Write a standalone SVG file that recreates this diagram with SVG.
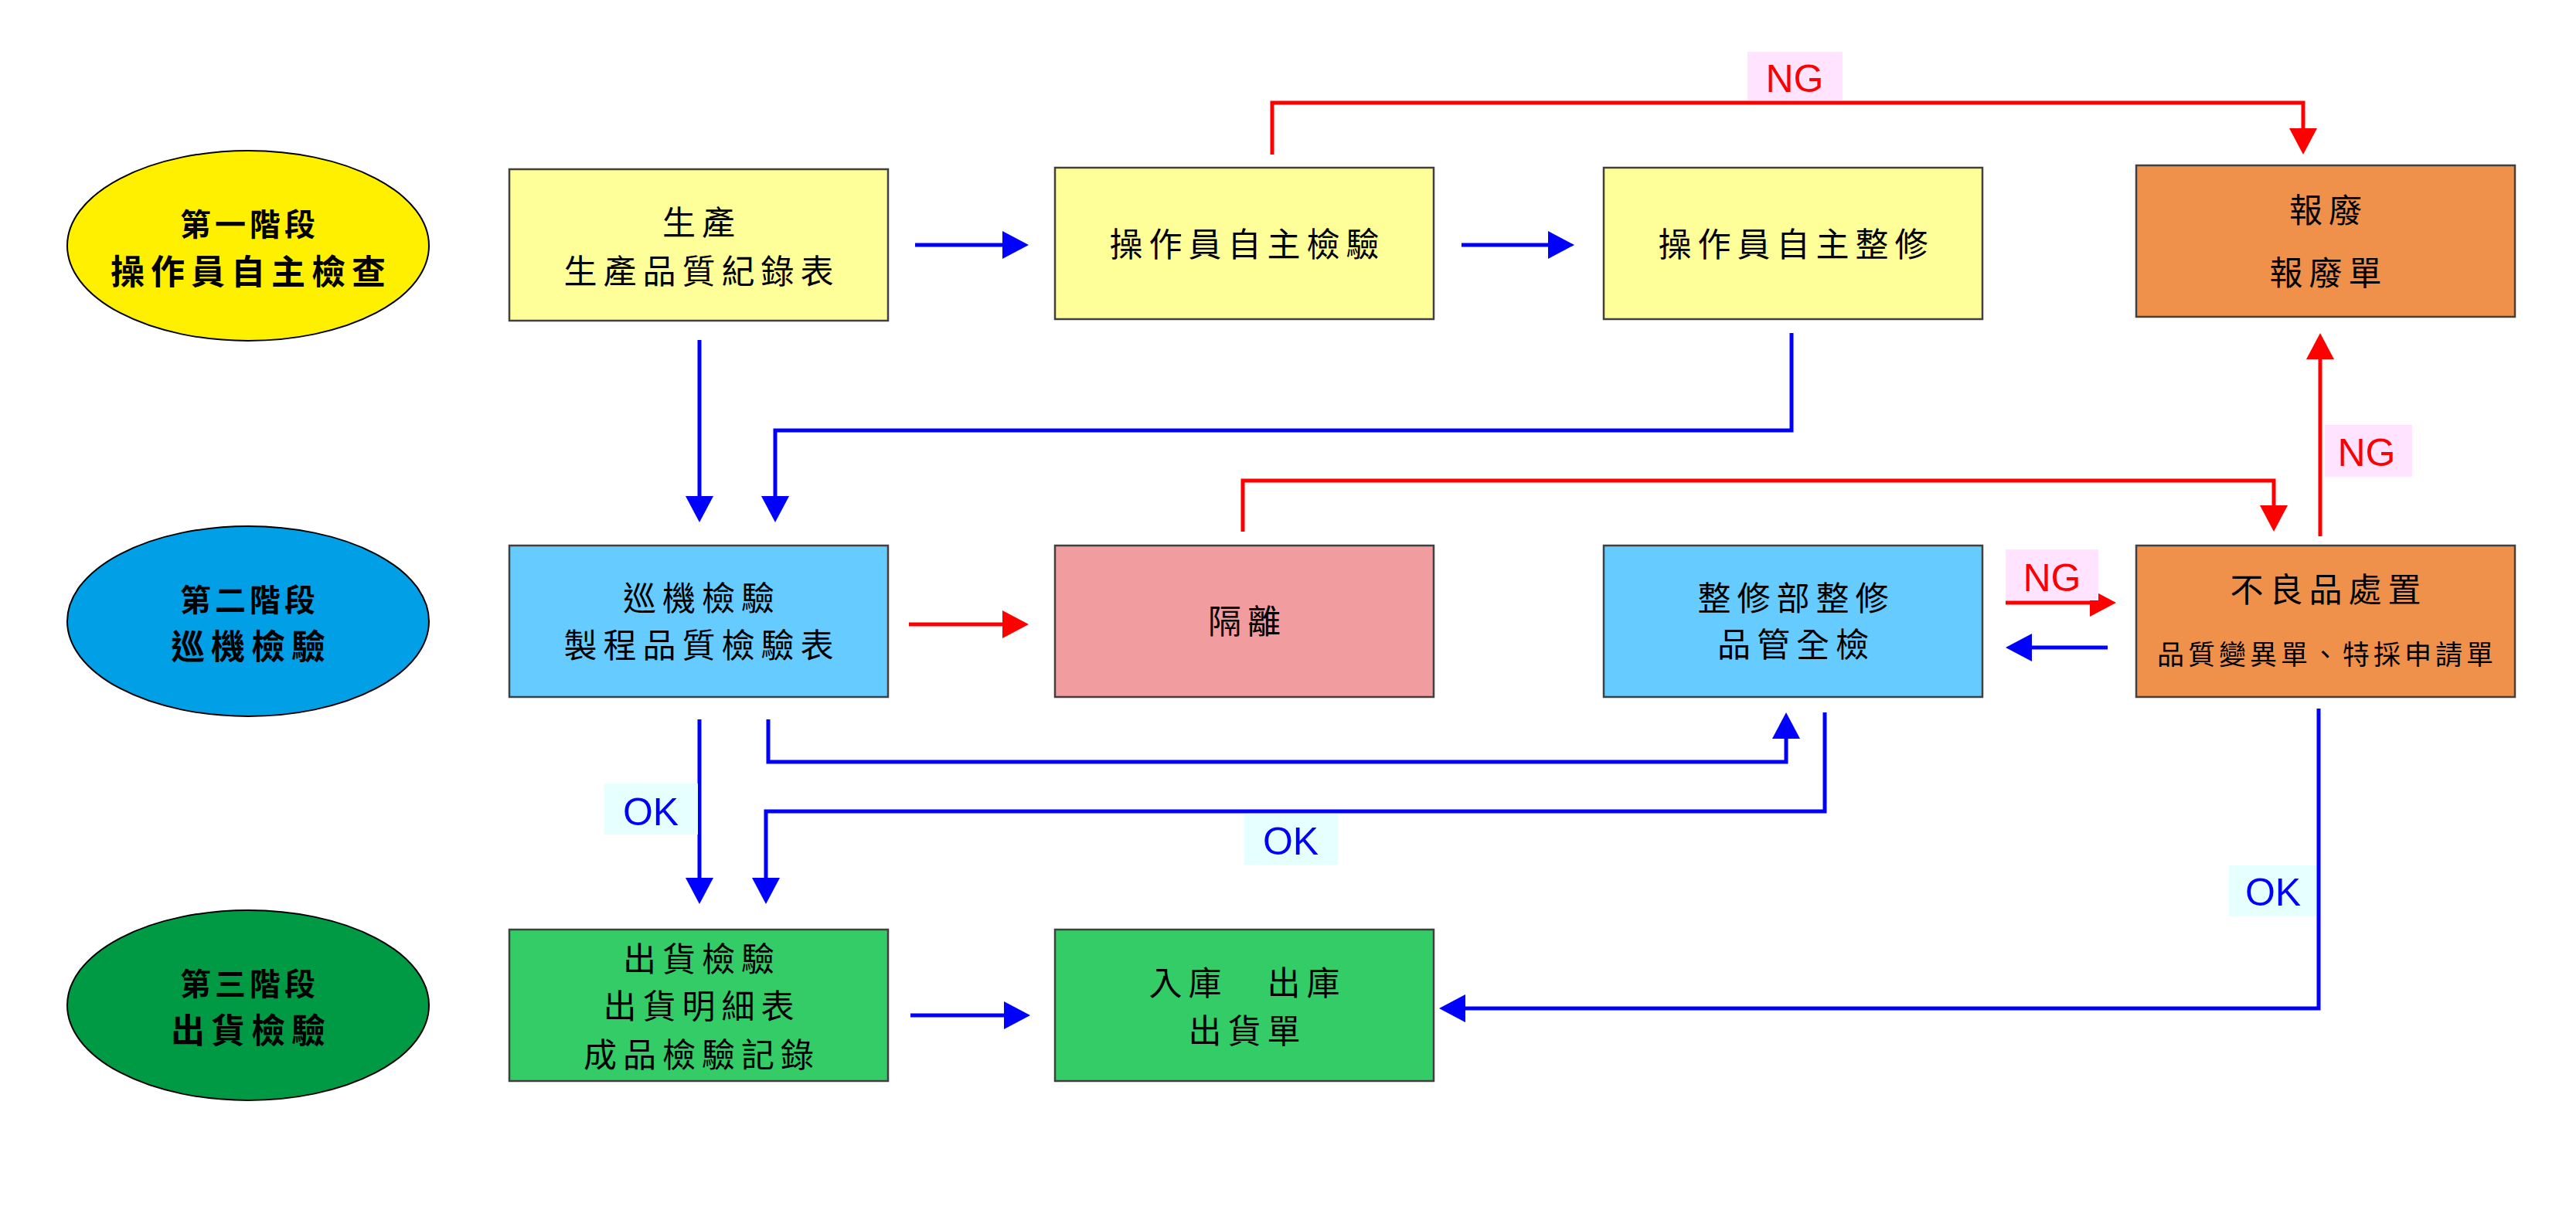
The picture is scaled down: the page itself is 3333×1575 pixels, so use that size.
<svg xmlns="http://www.w3.org/2000/svg" width="3333" height="1575" viewBox="0 0 3333 1575">
<style>
.box{stroke:#404040;stroke-width:2.5}
.ell{stroke:#000;stroke-width:2}
.t{font-family:"Noto Sans CJK TC","Noto Sans CJK SC",sans-serif;font-size:43px;letter-spacing:8px;text-anchor:middle;fill:#000}
.e1{font-family:"Noto Sans CJK TC",sans-serif;font-size:40px;letter-spacing:5px;font-weight:bold;text-anchor:middle;fill:#000}
.e2{font-family:"Noto Sans CJK TC",sans-serif;font-size:44px;letter-spacing:8px;font-weight:bold;text-anchor:middle;fill:#000}
.s{font-family:"Noto Sans CJK TC",sans-serif;font-size:35px;letter-spacing:5px;text-anchor:middle;fill:#000}
.b{fill:none;stroke:#0000FF;stroke-width:5}
.r{fill:none;stroke:#FF0000;stroke-width:5}
.bb{marker-end:url(#ab)}
.rr{marker-end:url(#ar)}
.lbl{font-family:"Liberation Sans",Arial,sans-serif;font-size:50px;text-anchor:middle}
</style>
<defs>
<marker id="ab" markerUnits="userSpaceOnUse" markerWidth="40" markerHeight="40" refX="2" refY="18" orient="auto"><path d="M0,0 L34,18 L0,36 Z" fill="#0000FF"/></marker>
<marker id="ar" markerUnits="userSpaceOnUse" markerWidth="40" markerHeight="40" refX="2" refY="18" orient="auto"><path d="M0,0 L34,18 L0,36 Z" fill="#FF0000"/></marker>
</defs>
<rect width="3333" height="1575" fill="#fff"/>
<g id="stage1"><ellipse class="ell" cx="321" cy="318" rx="234" ry="123" fill="#FFF000"/><text class="e1" x="323" y="305">第一階段</text><text class="e2" x="325" y="368">操作員自主檢查</text></g>
<g id="stage2"><ellipse class="ell" cx="321" cy="804" rx="234" ry="123" fill="#009FE6"/><text class="e1" x="323" y="791">第二階段</text><text class="e2" x="325" y="853">巡機檢驗</text></g>
<g id="stage3"><ellipse class="ell" cx="321" cy="1301" rx="234" ry="123" fill="#009A44"/><text class="e1" x="323" y="1288">第三階段</text><text class="e2" x="325" y="1350">出貨檢驗</text></g>
<g id="production"><rect class="box" x="659" y="219" width="490" height="196" fill="#FFFF99"/><text class="t" x="908" y="304">生產</text><text class="t" x="908" y="367">生產品質紀錄表</text></g>
<g id="self-inspect"><rect class="box" x="1365" y="217" width="490" height="196" fill="#FFFF99"/><text class="t" x="1614" y="332">操作員自主檢驗</text></g>
<g id="self-repair"><rect class="box" x="2075" y="217" width="490" height="196" fill="#FFFF99"/><text class="t" x="2324" y="332">操作員自主整修</text></g>
<g id="scrap"><rect class="box" x="2764" y="214" width="490" height="196" fill="#F0914B"/><text class="t" x="3013" y="288">報廢</text><text class="t" x="3013" y="369">報廢單</text></g>
<g id="patrol"><rect class="box" x="659" y="706" width="490" height="196" fill="#66CCFF"/><text class="t" x="908" y="790">巡機檢驗</text><text class="t" x="908" y="851">製程品質檢驗表</text></g>
<g id="isolate"><rect class="box" x="1365" y="706" width="490" height="196" fill="#F19C9E"/><text class="t" x="1614" y="820">隔離</text></g>
<g id="repair-dept"><rect class="box" x="2075" y="706" width="490" height="196" fill="#66CCFF"/><text class="t" x="2324" y="790">整修部整修</text><text class="t" x="2324" y="850">品管全檢</text></g>
<g id="defect"><rect class="box" x="2764" y="706" width="490" height="196" fill="#F0914B"/><text class="t" x="3013" y="779">不良品處置</text><text class="s" x="3011" y="860">品質變異單、特採申請單</text></g>
<g id="ship-inspect"><rect class="box" x="659" y="1203" width="490" height="196" fill="#33CC66"/><text class="t" x="908" y="1257">出貨檢驗</text><text class="t" x="908" y="1318">出貨明細表</text><text class="t" x="908" y="1381">成品檢驗記錄</text></g>
<g id="warehouse"><rect class="box" x="1365" y="1203" width="490" height="196" fill="#33CC66"/><text class="t" x="1614" y="1288">入庫　出庫</text><text class="t" x="1614" y="1350">出貨單</text></g>
<g id="connectors">
<path class="b bb" d="M1184,317 H1299"/>
<path class="b bb" d="M1891,317 H2005"/>
<path class="b bb" d="M905,440 V644"/>
<path class="b bb" d="M2318,431 V557 H1003 V644"/>
<path class="r rr" d="M1646,200 V133 H2980 V168"/>
<path class="r rr" d="M1176,808 H1299"/>
<path class="r rr" d="M1608,688 V622 H2942 V656"/>
<path class="r rr" d="M3002,694 V463"/>
<path class="r rr" d="M2595,780 H2706"/>
<path class="b bb" d="M2727,838 H2627"/>
<path class="b bb" d="M905,931 V1138"/>
<path class="b bb" d="M994,931 V986 H2311 V954"/>
<path class="b bb" d="M2361,922 V1050 H991 V1138"/>
<path class="b bb" d="M3000,917 V1305 H1894"/>
<path class="b bb" d="M1178,1314 H1301"/>
<g id="labels">
<rect x="2261" y="67" width="123" height="63" fill="#FFE3FF"/><text class="lbl" x="2322" y="119" fill="#FF0000">NG</text>
<rect x="3008" y="550" width="113" height="67" fill="#FFE3FF"/><text class="lbl" x="3062" y="603" fill="#FF0000">NG</text>
<rect x="2595" y="711" width="120" height="66" fill="#FFE3FF"/><text class="lbl" x="2655" y="765" fill="#FF0000">NG</text>
<rect x="782" y="1014" width="121" height="66" fill="#E6FFFF"/><text class="lbl" x="842" y="1068" fill="#0000FF">OK</text>
<rect x="1610" y="1054" width="121" height="65" fill="#E6FFFF"/><text class="lbl" x="1670" y="1106" fill="#0000FF">OK</text>
<rect x="2884" y="1120" width="113" height="66" fill="#E6FFFF"/><text class="lbl" x="2941" y="1172" fill="#0000FF">OK</text>
</g>
</g>
</svg>
